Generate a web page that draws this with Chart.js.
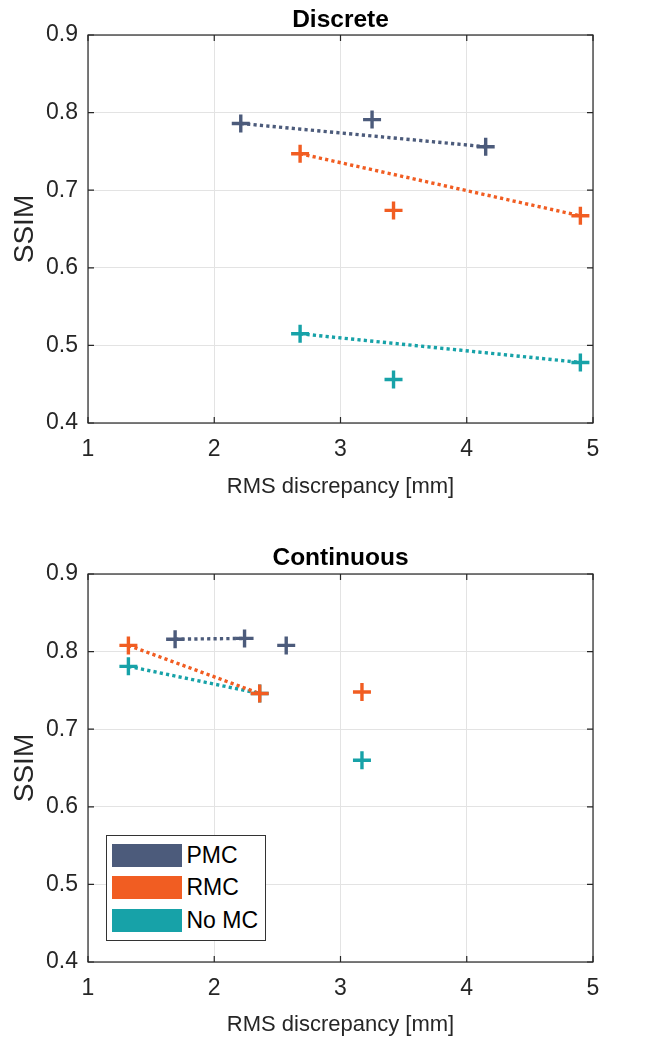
<!DOCTYPE html>
<html>
<head>
<meta charset="utf-8">
<script src="https://cdn.jsdelivr.net/npm/chart.js@4.4.1/dist/chart.umd.min.js"></script>
<style>
  html, body { margin: 0; padding: 0; background: #fff; }
  .panel { position: absolute; left: 0; width: 655px; height: 525px; }
  #legend {
    position: absolute; left: 106px; top: 835px; width: 160px; height: 106px;
    border: 1.5px solid #333; background: #fff; box-sizing: border-box;
    font-family: "Liberation Sans", Arial, sans-serif; font-size: 23px; color: #000;
  }
  #legend .row { position: absolute; left: 4.5px; height: 23px; display: flex; align-items: center; white-space: nowrap; }
  #legend .sw { width: 70px; height: 23px; margin-right: 5px; flex: none; }
</style>
</head>
<body>
<div class="panel" style="top:0"><canvas id="discrete" width="655" height="525"></canvas></div>
<div class="panel" style="top:525px"><canvas id="continuous" width="655" height="525"></canvas></div>
<div id="legend"></div>

<script>
// series names and colours
const seriesNames = ['PMC', 'RMC', 'No MC'];
const seriesColors = ['#4c5b7b', '#f15d22', '#17a2a8'];

// Discrete panel (x = RMS discrepancy, y = SSIM)
const discPmcX = [2.21, 3.25, 4.15];
const discPmcY = [0.786, 0.791, 0.756];
const discRmcX = [2.68, 3.42, 4.90];
const discRmcY = [0.747, 0.674, 0.667];
const discNoX = [2.68, 3.42, 4.90];
const discNoY = [0.515, 0.456, 0.478];
const discLinks = [0, 2]; // dotted line joins these points

// Continuous panel
const contPmcX = [1.69, 2.24, 2.57];
const contPmcY = [0.816, 0.817, 0.808];
const contRmcX = [1.32, 2.36, 3.17];
const contRmcY = [0.808, 0.746, 0.748];
const contNoX = [1.32, 2.36, 3.17];
const contNoY = [0.781, 0.746, 0.660];
const contLinks = [0, 1];

// axis ticks
const xTicks = [1, 2, 3, 4, 5];
const yTicks = [0.4, 0.5, 0.6, 0.7, 0.8, 0.9];

const FONT = '"Liberation Sans", Arial, Helvetica, sans-serif';
const AXIS = '#262626';

function pts(xs, ys) {
  return xs.map((x, i) => ({ x: x, y: ys[i] }));
}

function buildDatasets(xsList, ysList, links) {
  const sets = [];
  xsList.forEach((xs, s) => {
    const p = pts(xs, ysList[s]);
    sets.push({
      type: 'line',
      label: seriesNames[s] + ' fit',
      data: links.map(i => p[i]),
      borderColor: seriesColors[s],
      borderWidth: 3.4,
      borderDash: [3.2, 3.2],
      borderCapStyle: 'butt',
      pointRadius: 0,
      fill: false,
      order: 2
    });
    sets.push({
      type: 'scatter',
      label: seriesNames[s],
      data: p,
      pointStyle: 'cross',
      pointRadius: 9,
      pointHoverRadius: 9,
      borderColor: seriesColors[s],
      backgroundColor: seriesColors[s],
      pointBorderWidth: 3.4,
      order: 1
    });
  });
  return sets;
}

// MATLAB-style box with inward ticks, plus panel title centred on the axes
const boxPlugin = {
  id: 'box',
  afterDraw(chart, args, opts) {
    const { ctx, chartArea: a, scales } = chart;
    ctx.save();
    ctx.strokeStyle = AXIS;
    ctx.lineWidth = 1.2;
    ctx.strokeRect(a.left, a.top, a.right - a.left, a.bottom - a.top);
    const len = 6;
    ctx.beginPath();
    xTicks.forEach(v => {
      const px = scales.x.getPixelForValue(v);
      ctx.moveTo(px, a.bottom); ctx.lineTo(px, a.bottom - len);
      ctx.moveTo(px, a.top); ctx.lineTo(px, a.top + len);
    });
    yTicks.forEach(v => {
      const py = scales.y.getPixelForValue(v);
      ctx.moveTo(a.left, py); ctx.lineTo(a.left + len, py);
      ctx.moveTo(a.right, py); ctx.lineTo(a.right - len, py);
    });
    ctx.stroke();
    ctx.fillStyle = '#000';
    ctx.font = 'bold 24.5px ' + FONT;
    ctx.textAlign = 'center';
    ctx.textBaseline = 'middle';
    ctx.fillText(opts.text, (a.left + a.right) / 2, opts.y);
    ctx.restore();
  }
};

function makeChart(id, title, datasets, top, titleY, xHeight, xTitlePad) {
  return new Chart(document.getElementById(id), {
    data: { datasets: datasets },
    options: {
      responsive: false,
      animation: false,
      events: [],
      layout: { padding: { left: 0, right: 62, top: top, bottom: 0 } },
      plugins: {
        legend: { display: false },
        tooltip: { enabled: false },
        title: { display: false },
        box: { text: title, y: titleY }
      },
      scales: {
        x: {
          type: 'linear',
          min: 1, max: 5,
          afterBuildTicks: s => { s.ticks = xTicks.map(v => ({ value: v })); },
          afterFit: s => { s.height = xHeight; },
          grid: { color: '#e3e3e3', lineWidth: 1, drawTicks: false },
          border: { display: false },
          ticks: { color: '#262626', padding: 13, font: { family: FONT, size: 23 } },
          title: {
            display: true, text: 'RMS discrepancy [mm]', color: '#262626',
            font: { family: FONT, size: 22 }, padding: { top: 0, bottom: xTitlePad }
          }
        },
        y: {
          type: 'linear',
          min: 0.4, max: 0.9,
          afterBuildTicks: s => { s.ticks = yTicks.map(v => ({ value: v })); },
          afterFit: s => { s.width = 88; },
          grid: { color: '#e3e3e3', lineWidth: 1, drawTicks: false },
          border: { display: false },
          ticks: {
            color: '#262626', padding: 10, font: { family: FONT, size: 23 },
            callback: v => v.toFixed(1)
          },
          title: {
            display: true, text: 'SSIM', color: '#262626',
            font: { family: FONT, size: 28 }, padding: { top: 8, bottom: 0 }
          }
        }
      }
    },
    plugins: [boxPlugin]
  });
}

makeChart('discrete', 'Discrete',
  buildDatasets([discPmcX, discRmcX, discNoX], [discPmcY, discRmcY, discNoY], discLinks),
  35, 20, 102, 25);

makeChart('continuous', 'Continuous',
  buildDatasets([contPmcX, contRmcX, contNoX], [contPmcY, contRmcY, contNoY], contLinks),
  49, 33, 88, 12);

// legend (inside the lower panel)
const legendEl = document.getElementById('legend');
seriesNames.forEach((name, i) => {
  const row = document.createElement('div');
  row.className = 'row';
  row.style.top = (7.5 + i * 32.5) + 'px';
  const sw = document.createElement('div');
  sw.className = 'sw';
  sw.style.background = seriesColors[i];
  const label = document.createElement('span');
  label.textContent = name;
  row.appendChild(sw);
  row.appendChild(label);
  legendEl.appendChild(row);
});
</script>
</body>
</html>
